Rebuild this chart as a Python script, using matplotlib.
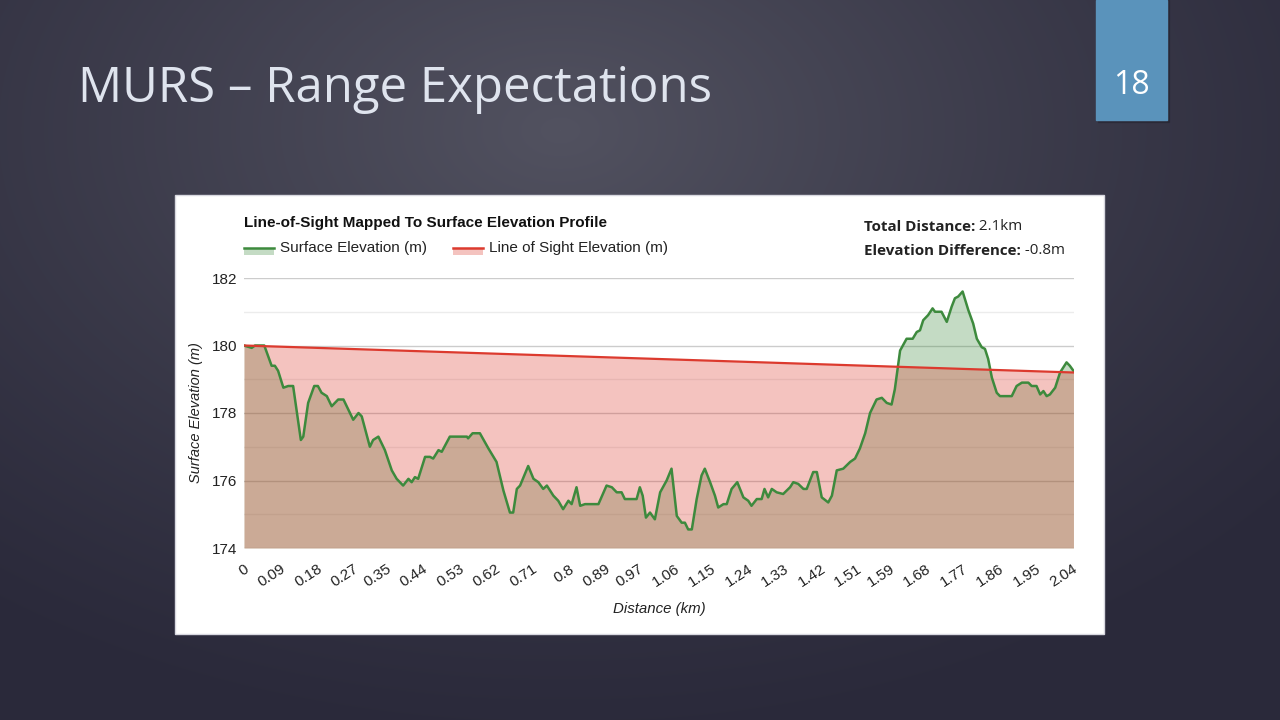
import numpy as np
import matplotlib.pyplot as plt
from matplotlib.patches import Rectangle
from matplotlib.lines import Line2D

# Surface elevation profile (distance in km, elevation in m)
distance_km = [
    0.000, 0.019, 0.027, 0.050, 0.068, 0.076, 0.084, 0.097, 0.109, 0.121,
    0.140, 0.146, 0.158, 0.173, 0.182, 0.191, 0.204, 0.216, 0.232, 0.245,
    0.269, 0.282, 0.290, 0.310, 0.318, 0.331, 0.347, 0.364, 0.376, 0.392,
    0.405, 0.413, 0.421, 0.429, 0.446, 0.458, 0.466, 0.479, 0.487, 0.507,
    0.549, 0.552, 0.563, 0.581, 0.602, 0.622, 0.639, 0.655, 0.663, 0.672,
    0.680, 0.700, 0.713, 0.725, 0.737, 0.746, 0.762, 0.774, 0.786, 0.799,
    0.807, 0.819, 0.828, 0.840, 0.873, 0.893, 0.906, 0.918, 0.930, 0.938,
    0.967, 0.975, 0.982, 0.990, 1.000, 1.012, 1.025, 1.041, 1.053, 1.066,
    1.078, 1.086, 1.094, 1.103, 1.115, 1.127, 1.135, 1.148, 1.160, 1.168,
    1.181, 1.189, 1.201, 1.215, 1.230, 1.242, 1.250, 1.263, 1.275, 1.282,
    1.291, 1.300, 1.312, 1.328, 1.345, 1.353, 1.365, 1.378, 1.386, 1.402,
    1.411, 1.423, 1.439, 1.448, 1.460, 1.476, 1.493, 1.505, 1.517, 1.530,
    1.542, 1.558, 1.571, 1.583, 1.595, 1.603, 1.616, 1.632, 1.647, 1.657,
    1.665, 1.673, 1.685, 1.696, 1.702, 1.718, 1.731, 1.743, 1.751, 1.759,
    1.770, 1.784, 1.796, 1.805, 1.817, 1.825, 1.833, 1.842, 1.854, 1.862,
    1.891, 1.903, 1.916, 1.932, 1.940, 1.952, 1.961, 1.969, 1.977, 1.985,
    1.998, 2.010, 2.026, 2.034, 2.043,
]
surface_m = [
    180.0, 179.93, 180.0, 180.0, 179.4, 179.4, 179.25, 178.75, 178.8, 178.8,
    177.2, 177.3, 178.3, 178.8, 178.8, 178.6, 178.5, 178.2, 178.4, 178.4,
    177.8, 178.0, 177.9, 177.0, 177.2, 177.3, 176.9, 176.3, 176.05, 175.85,
    176.05, 175.95, 176.1, 176.05, 176.7, 176.7, 176.65, 176.9, 176.85, 177.3,
    177.3, 177.25, 177.4, 177.4, 176.95, 176.55, 175.7, 175.05, 175.05, 175.75,
    175.85, 176.43, 176.05, 175.95, 175.75, 175.85, 175.55, 175.4, 175.15, 175.4,
    175.3, 175.8, 175.25, 175.3, 175.3, 175.85, 175.8, 175.65, 175.65, 175.45,
    175.45, 175.8, 175.55, 174.9, 175.05, 174.85, 175.65, 176.0, 176.35, 174.95,
    174.75, 174.75, 174.55, 174.55, 175.45, 176.15, 176.35, 175.95, 175.55, 175.2,
    175.3, 175.3, 175.75, 175.95, 175.5, 175.4, 175.25, 175.45, 175.45, 175.75,
    175.5, 175.75, 175.65, 175.6, 175.8, 175.95, 175.9, 175.75, 175.75, 176.25,
    176.25, 175.5, 175.35, 175.55, 176.3, 176.35, 176.55, 176.65, 176.95, 177.4,
    178.0, 178.4, 178.45, 178.3, 178.25, 178.7, 179.85, 180.2, 180.2, 180.4,
    180.45, 180.75, 180.9, 181.1, 181.0, 181.0, 180.7, 181.15, 181.4, 181.45,
    181.6, 181.05, 180.65, 180.2, 179.95, 179.9, 179.6, 179.05, 178.6, 178.5,
    178.5, 178.8, 178.9, 178.9, 178.8, 178.8, 178.55, 178.65, 178.5, 178.55,
    178.75, 179.2, 179.5, 179.4, 179.25,
]
# Line of sight: straight from start to end
los_km = [0.0, 2.043]
los_m = [180.0, 179.2]

x_tick_labels = ['0', '0.09', '0.18', '0.27', '0.35', '0.44', '0.53', '0.62',
                 '0.71', '0.8', '0.89', '0.97', '1.06', '1.15', '1.24', '1.33',
                 '1.42', '1.51', '1.59', '1.68', '1.77', '1.86', '1.95', '2.04']
y_major = [174, 176, 178, 180, 182]
y_minor = [175, 177, 179, 181]

green = '#3d8a3d'
red = '#dc3a2e'
chart_font = 'Liberation Sans'

W, H = 1280, 720
fig = plt.figure(figsize=(12.8, 7.2), dpi=100)

# slide background (pixel coordinates, y down)
bg = fig.add_axes([0, 0, 1, 1])
bg.axis('off')
yy, xx = np.mgrid[0:H, 0:W]
r = np.sqrt(((xx - 560) / 950.0) ** 2 + ((yy - 130) / 620.0) ** 2)
shade = np.clip(1 - r, 0, 1) ** 1.2
c_dark = np.array([0x2a, 0x29, 0x3a]) / 255
c_light = np.array([0x52, 0x52, 0x60]) / 255
img = c_dark + (c_light - c_dark) * shade[..., None]
bg.imshow(img, extent=[0, W, H, 0], aspect='auto', zorder=0)
bg.set_xlim(0, W)
bg.set_ylim(H, 0)

# slide title and page number
bg.text(78, 89, 'MURS \u2013 Range Expectations', fontsize=35.4, color='#dfe4ee',
        family='Open Sans', va='center', ha='left')
bg.add_patch(Rectangle((1098, 0), 71, 122, color='#1e1d28', alpha=0.35, zorder=1))
bg.add_patch(Rectangle((1096, 0), 71, 120, color='#5a93bb', zorder=2))
bg.text(1131, 85, '18', fontsize=23, color='white', family='Open Sans',
        ha='center', va='center', zorder=3)

# white chart panel
bg.add_patch(Rectangle((175, 195), 929, 439, fc='white', ec='#d8d8e0', lw=1, zorder=1))

bg.text(244, 223, 'Line-of-Sight Mapped To Surface Elevation Profile', fontsize=11,
        weight='bold', family=chart_font, color='#111111', va='center', zorder=3)

# legend
bg.add_patch(Rectangle((244, 248), 30, 7, color=green, alpha=0.3, lw=0, zorder=3))
bg.add_line(Line2D([244, 274], [248, 248], color=green, lw=1.8, zorder=4))
bg.text(280, 248, 'Surface Elevation (m)', fontsize=11, family=chart_font,
        color='#222222', va='center', zorder=3)
bg.add_patch(Rectangle((453, 248), 30, 7, color=red, alpha=0.3, lw=0, zorder=3))
bg.add_line(Line2D([453, 483], [248, 248], color=red, lw=1.8, zorder=4))
bg.text(489, 248, 'Line of Sight Elevation (m)', fontsize=11, family=chart_font,
        color='#222222', va='center', zorder=3)

# summary text on the right
for ty, label, value in [(227, 'Total Distance:', ' 2.1km'),
                         (251, 'Elevation Difference:', ' -0.8m')]:
    t = bg.text(864, ty, label, fontsize=10.9, weight='bold', family='Open Sans',
                color='#222222', va='center', zorder=3)
    bg.annotate(value, xycoords=t, xy=(1, 0.5), va='center', fontsize=10.9,
                family='Open Sans', color='#222222', zorder=3)

# axis titles
bg.text(196, 413, 'Surface Elevation (m)', fontsize=10.5, style='italic', family=chart_font,
        color='#222222', rotation=90, ha='center', va='center', zorder=3)
bg.text(659, 609, 'Distance (km)', fontsize=10.8, style='italic', family=chart_font,
        color='#222222', ha='center', va='center', zorder=3)

# the chart itself
ax = fig.add_axes([244 / W, 1 - 548 / H, 830 / W, 270 / H])
ax.set_xlim(0, 830 / 406.0)
ax.set_ylim(174, 182)
ax.patch.set_alpha(0)
for s in ax.spines.values():
    s.set_visible(False)

ax.set_yticks(y_major)
ax.set_yticks(y_minor, minor=True)
ax.grid(True, which='major', axis='y', color='#cccccc', lw=1, zorder=0)
ax.grid(True, which='minor', axis='y', color='#ececec', lw=1, zorder=0)
ax.set_axisbelow(True)

ax.fill_between(distance_km, surface_m, 174, color=green, alpha=0.3, lw=0, zorder=1)
ax.fill_between(los_km, los_m, 174, color=red, alpha=0.3, lw=0, zorder=2)
ax.plot(distance_km, surface_m, color=green, lw=1.8, zorder=3)
ax.plot(los_km, los_m, color=red, lw=1.6, zorder=4)

ax.set_xticks([float(v) for v in x_tick_labels])
ax.set_xticklabels(x_tick_labels, rotation=33, ha='right', rotation_mode='anchor',
                   fontsize=11, family=chart_font, color='#222222')
ax.tick_params(axis='x', length=0, pad=10)
ax.tick_params(axis='y', which='both', length=0, pad=5, labelsize=11, labelcolor='#222222')
for lbl in ax.get_yticklabels():
    lbl.set_family(chart_font)

fig.savefig('out.png', dpi=100)
